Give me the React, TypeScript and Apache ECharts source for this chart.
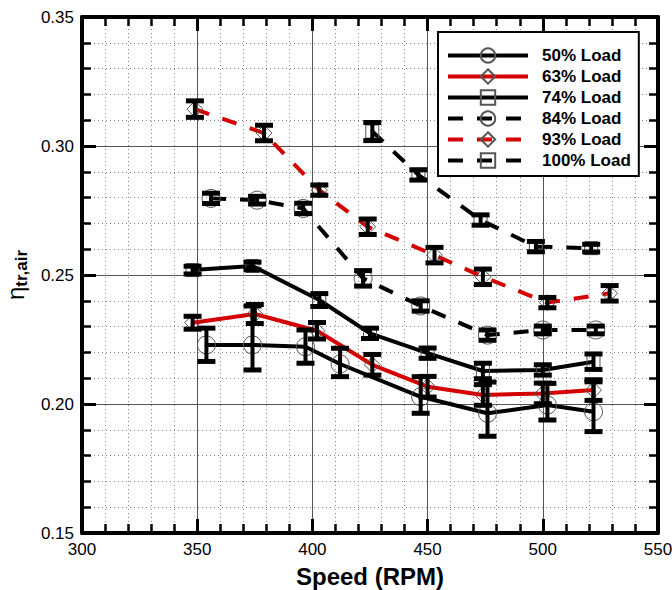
import React, { useEffect, useRef } from "react";
import * as echarts from "echarts";

const FONT = "'Liberation Sans', Arial, Helvetica, sans-serif";

// Tick values
const xTicks = [300, 350, 400, 450, 500, 550];
const yTicks = [0.15, 0.2, 0.25, 0.3, 0.35];

// Series names
const seriesNames = ["50% Load", "63% Load", "74% Load", "84% Load", "93% Load", "100% Load"];

// 50% Load
const rpm50 = [354, 374, 397, 412, 447, 476, 502, 522];
const eta50 = [0.2229, 0.2229, 0.2222, 0.2155, 0.2028, 0.1964, 0.1996, 0.197];
const lo50 = [0.2165, 0.2132, 0.2158, 0.2106, 0.1964, 0.1875, 0.1938, 0.1893];
const hi50 = [0.2294, 0.238, 0.2287, 0.2216, 0.2106, 0.2085, 0.208, 0.2086];

// 63% Load
const rpm63 = [348, 375, 402, 426, 450, 474, 500, 522];
const eta63 = [0.2315, 0.2349, 0.2284, 0.2152, 0.2067, 0.2035, 0.2041, 0.2054];
const err63 = [0.0025, 0.0037, 0.0032, 0.004, 0.004, 0.004, 0.004, 0.004];

// 74% Load
const rpm74 = [348, 374, 403, 425, 450, 474, 500, 522];
const eta74 = [0.2519, 0.2535, 0.2403, 0.2274, 0.2197, 0.2128, 0.2132, 0.2164];
const err74 = [0.0015, 0.0015, 0.0025, 0.002, 0.002, 0.003, 0.002, 0.003];

// 84% Load
const rpm84 = [356, 376, 396, 422, 447, 476, 500, 523];
const eta84 = [0.2797, 0.279, 0.2758, 0.2487, 0.238, 0.2267, 0.2287, 0.2287];
const err84 = [0.002, 0.0015, 0.002, 0.003, 0.002, 0.002, 0.0015, 0.0015];

// 93% Load
const rpm93 = [349, 379, 403, 424, 453, 474, 502, 529];
const eta93 = [0.3143, 0.305, 0.2829, 0.2687, 0.2577, 0.2493, 0.2393, 0.2429];
const err93 = [0.0032, 0.003, 0.002, 0.003, 0.003, 0.003, 0.002, 0.003];

// 100% Load
const rpm100 = [426, 446, 473, 497, 521];
const eta100 = [0.3056, 0.2888, 0.2713, 0.261, 0.2604];
const err100 = [0.0035, 0.002, 0.002, 0.002, 0.0015];

const RED = "#d40000";
const BLACK = "#000000";

function pairs(xs: number[], ys: number[]) {
  return xs.map((x, i) => [x, ys[i]]);
}

function errRows(xs: number[], ys: number[], lo?: number[], hi?: number[], e?: number[]) {
  return xs.map((x, i) => [
    x,
    lo ? lo[i] : ys[i] - (e as number[])[i],
    hi ? hi[i] : ys[i] + (e as number[])[i],
  ]);
}

export default function App() {
  const ref = useRef<HTMLDivElement>(null);

  useEffect(() => {
    if (!ref.current) return;
    const chart = echarts.init(ref.current, undefined, { renderer: "svg" });

    const dashed = [15, 14];
    const markerStyle = { color: "rgba(0,0,0,0)", borderColor: "#555", borderWidth: 1 };

    const lineDefs = [
      { name: seriesNames[0], data: pairs(rpm50, eta50), color: BLACK, type: "solid" as any, symbol: "circle", size: 18 },
      { name: seriesNames[1], data: pairs(rpm63, eta63), color: RED, type: "solid" as any, symbol: "diamond", size: 16 },
      { name: seriesNames[2], data: pairs(rpm74, eta74), color: BLACK, type: "solid" as any, symbol: "rect", size: 13 },
      { name: seriesNames[3], data: pairs(rpm84, eta84), color: BLACK, type: dashed as any, symbol: "circle", size: 18 },
      { name: seriesNames[4], data: pairs(rpm93, eta93), color: RED, type: dashed as any, symbol: "diamond", size: 16 },
      { name: seriesNames[5], data: pairs(rpm100, eta100), color: BLACK, type: dashed as any, symbol: "rect", size: 13 },
    ];

    const errData = [
      ...errRows(rpm50, eta50, lo50, hi50),
      ...errRows(rpm63, eta63, undefined, undefined, err63),
      ...errRows(rpm74, eta74, undefined, undefined, err74),
      ...errRows(rpm84, eta84, undefined, undefined, err84),
      ...errRows(rpm93, eta93, undefined, undefined, err93),
      ...errRows(rpm100, eta100, undefined, undefined, err100),
    ];

    const axisCommon = {
      axisLine: { show: true, onZero: false, lineStyle: { color: "#000", width: 4 } },
      axisTick: { show: true, inside: true, length: 14, lineStyle: { color: "#000", width: 3 } },
      minorTick: { show: true, splitNumber: 5, length: 9, lineStyle: { color: "#000", width: 2.5 } },
    };

    const option: any = {
      animation: false,
      grid: { left: 82, right: 14, top: 17, bottom: 57, containLabel: false, outerBoundsMode: "none" },
      legend: {
        data: seriesNames,
        orient: "vertical",
        left: 438,
        top: 32,
        padding: [15, 8, 7, 8],
        itemWidth: 80,
        itemHeight: 18,
        itemGap: 4,
        backgroundColor: "#fff",
        borderColor: "#000",
        borderWidth: 2,
        lineStyle: { width: 4 },
        textStyle: { fontFamily: FONT, fontSize: 17, fontWeight: "bold", color: "#000", padding: [0, 0, 0, 9] },
      },
      xAxis: [
        {
          type: "value",
          min: xTicks[0],
          max: xTicks[xTicks.length - 1],
          interval: xTicks[1] - xTicks[0],
          name: "Speed (RPM)",
          nameLocation: "middle",
          nameGap: 31,
          nameTextStyle: { fontFamily: FONT, fontSize: 24, fontWeight: "bold", color: "#000" },
          ...axisCommon,
          splitLine: { show: true, lineStyle: { color: "#555", width: 1 } },
          minorSplitLine: { show: true, lineStyle: { color: "#888", width: 1, type: [1, 3] } },
          axisLabel: { fontFamily: FONT, fontSize: 17, color: "#000", margin: 8 },
        },
        {
          type: "value",
          position: "top",
          min: xTicks[0],
          max: xTicks[xTicks.length - 1],
          interval: xTicks[1] - xTicks[0],
          ...axisCommon,
          splitLine: { show: false },
          axisLabel: { show: false },
        },
      ],
      yAxis: [
        {
          type: "value",
          min: yTicks[0],
          max: yTicks[yTicks.length - 1],
          interval: 0.05,
          name: "{eta|η}{sub|tr,air}",
          nameLocation: "middle",
          nameRotate: 90,
          nameGap: 45,
          nameTextStyle: {
            rich: {
              eta: { fontFamily: FONT, fontSize: 24, color: "#000" },
              sub: { fontFamily: FONT, fontSize: 17, fontWeight: "bold", color: "#000", padding: [12, 0, 0, 0] },
            },
          },
          ...axisCommon,
          splitLine: { show: true, lineStyle: { color: "#555", width: 1 } },
          minorSplitLine: { show: true, lineStyle: { color: "#888", width: 1, type: [1, 3] } },
          axisLabel: {
            fontFamily: FONT,
            fontSize: 17,
            color: "#000",
            margin: 8,
            formatter: (v: number) => v.toFixed(2),
          },
        },
        {
          type: "value",
          position: "right",
          min: yTicks[0],
          max: yTicks[yTicks.length - 1],
          interval: 0.05,
          ...axisCommon,
          splitLine: { show: false },
          axisLabel: { show: false },
        },
      ],
      series: [
        ...lineDefs.map((d) => ({
          type: "line",
          name: d.name,
          data: d.data,
          z: 3,
          symbol: d.symbol,
          symbolSize: d.size,
          showAllSymbol: true,
          lineStyle: { color: d.color, width: 4, type: d.type },
          itemStyle: markerStyle,
          emphasis: { disabled: true },
        })),
        {
          type: "custom",
          name: "errorbars",
          z: 5,
          data: errData,
          encode: { x: 0, y: [1, 2] },
          renderItem: (params: any, api: any) => {
            const x = api.value(0);
            const top = api.coord([x, api.value(2)]);
            const bot = api.coord([x, api.value(1)]);
            const capW = 18;
            const capH = 5;
            return {
              type: "group",
              children: [
                {
                  type: "line",
                  shape: { x1: top[0], y1: top[1], x2: bot[0], y2: bot[1] },
                  style: { stroke: "#000", lineWidth: 4 },
                },
                {
                  type: "rect",
                  shape: { x: top[0] - capW / 2, y: top[1] - capH / 2, width: capW, height: capH },
                  style: { fill: "#000" },
                },
                {
                  type: "rect",
                  shape: { x: bot[0] - capW / 2, y: bot[1] - capH / 2, width: capW, height: capH },
                  style: { fill: "#000" },
                },
              ],
            };
          },
        },
      ],
    };

    chart.setOption(option);
    return () => chart.dispose();
  }, []);

  return (
    <div
      ref={ref}
      style={{ position: "fixed", left: 0, top: 0, width: 672, height: 590, background: "#fff" }}
    />
  );
}
